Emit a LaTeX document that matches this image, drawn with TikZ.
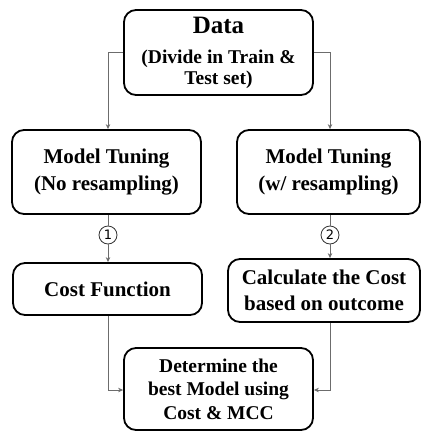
\documentclass[tikz,border=0pt]{standalone}
\usepackage{fontspec}
\setmainfont{Liberation Serif}
\newfontfamily\numfont{DejaVu Sans}
\usetikzlibrary{arrows.meta}
\begin{document}
\begin{tikzpicture}[x=1pt,y=-1pt,
  box/.style={draw=black,line width=1.8pt,rounded corners=12pt,align=center,
    font=\bfseries,inner sep=0pt},
  link/.style={draw=gray!85!black,line width=0.8pt},
  arr/.style={link,-{Stealth[length=5pt,width=4.5pt]}},
  numc/.style={draw=black!80,circle,line width=0.8pt,inner sep=0pt,minimum size=18pt,
    font=\numfont\fontsize{13}{13}\selectfont,fill=white}]
\useasboundingbox (0,0) rectangle (421,431);
\fill[white] (0,0) rectangle (421,431);

\node[box,minimum width=189pt,minimum height=85pt,font=\bfseries\fontsize{19.5}{21}\selectfont] (data) at (218.5,52.5)
  {{\fontsize{25}{27}\selectfont Data}\\[9pt]
   (Divide in Train \&\\Test set)};
\node[box,minimum width=189pt,minimum height=84pt,font=\bfseries\fontsize{21}{27}\selectfont] (mtl) at (106.5,172)
  {Model Tuning\\(No resampling)};
\node[box,minimum width=183pt,minimum height=84pt,font=\bfseries\fontsize{21}{27}\selectfont] (mtr) at (328.5,172)
  {Model Tuning\\(w/ resampling)};
\node[box,minimum width=189pt,minimum height=52pt,font=\bfseries\fontsize{21}{26}\selectfont] (cost) at (107.5,289)
  {Cost Function};
\node[box,minimum width=192pt,minimum height=63pt,font=\bfseries\fontsize{21}{26}\selectfont] (calc) at (324,290.5)
  {Calculate the Cost\\based on outcome};
\node[box,minimum width=189pt,minimum height=82pt,font=\bfseries\fontsize{19.5}{23.5}\selectfont] (best) at (218.5,389)
  {Determine the\\best Model using\\Cost \& MCC};

\node[numc] (n1) at (108,235) {1};
\node[numc] (n2) at (330,235) {2};

\coordinate (dl) at (108,52);
\coordinate (dr) at (330,52);
\coordinate (bl) at (108,390);
\coordinate (br) at (330,390);

\draw[link] (data.west |- dl) -- (dl);
\draw[arr] (dl) -- (dl |- mtl.north);
\draw[link] (data.east |- dr) -- (dr);
\draw[arr] (dr) -- (dr |- mtr.north);

\draw[link] (n1 |- mtl.south) -- (n1.north);
\draw[arr] (n1.south) -- (n1 |- cost.north);
\draw[link] (n2 |- mtr.south) -- (n2.north);
\draw[arr] (n2.south) -- (n2 |- calc.north);

\draw[arr] (bl |- cost.south) -- (bl) -- (best.west |- bl);
\draw[arr] (br |- calc.south) -- (br) -- (best.east |- br);
\end{tikzpicture}
\end{document}
